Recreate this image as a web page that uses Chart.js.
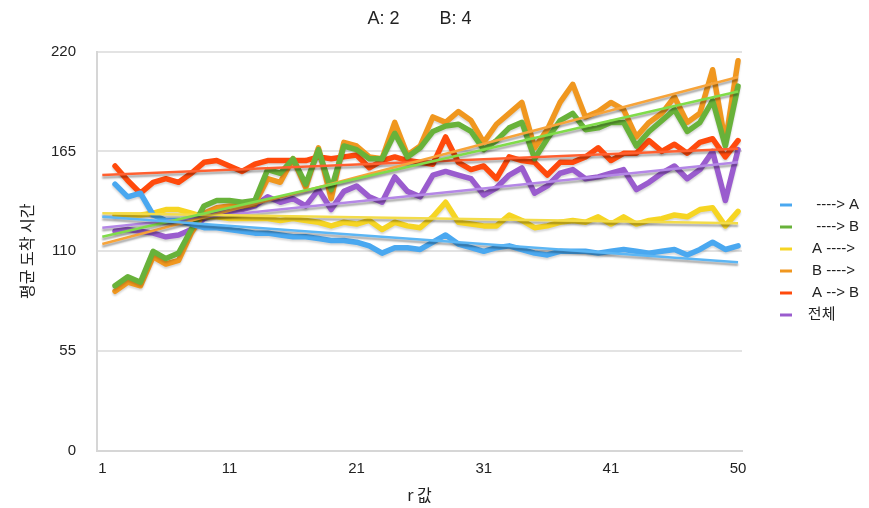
<!DOCTYPE html>
<html>
<head>
<meta charset="utf-8">
<script src="https://cdn.jsdelivr.net/npm/chart.js@4.4.1/dist/chart.umd.min.js"></script>
<style>
html,body{margin:0;padding:0;background:#ffffff;}
#wrap{width:869px;height:508px;position:relative;}
</style>
</head>
<body>
<div id="wrap"><canvas id="c" width="869" height="508" style="width:869px;height:508px"></canvas></div>
<script>
// ---- data ----
const rValues = [2,3,4,5,6,7,8,9,10,11,12,13,14,15,16,17,18,19,20,21,22,23,24,25,26,27,28,29,30,31,32,33,34,35,36,37,38,39,40,41,42,43,44,45,46,47,48,49,50,51];
const tickValues = [1,11,21,31,41,51];
const tickLabels = ['1','11','21','31','41','50'];
const seriesNames = ['    ----> A','    ----> B','   A ---->','   B ---->','   A --> B','  전체'];

const toA   = [147,140,142,130,127,127,125,123,123,122,121,120,120,119,118,118,117,116,116,115,113,109,112,112,111,115,119,114,112,110,112,113,111,109,108,110,110,110,109,110,111,110,109,110,111,108,111,115,111,113];
const toB   = [91,96,93,110,106,109,122,135,138,138,137,138,155,153,161,147,166,144,168,166,161,161,175,162,167,176,179,180,176,166,171,178,181,161,172,182,186,177,178,181,181,168,176,182,188,176,181,193,168,201];
const fromA = [130,130,130,131,133,133,131,129,129,128,128,128,128,127,128,127,126,124,126,125,127,122,126,124,123,129,137,126,125,124,124,130,127,123,124,126,127,126,129,125,129,125,127,128,130,129,133,134,124,132];
const fromB = [88,93,91,107,103,105,120,131,134,135,135,136,150,148,161,145,167,139,170,168,162,161,181,163,168,184,181,187,182,170,180,186,192,167,177,192,202,184,187,192,188,173,181,186,195,181,186,210,170,215];
const aToB  = [157,149,142,148,150,148,153,159,160,157,154,158,160,160,160,160,162,161,162,163,156,160,162,160,159,158,173,159,155,157,150,162,160,159,152,159,159,162,167,160,164,164,171,165,169,164,170,172,162,171];
const total = [121,122,121,120,118,119,122,128,131,132,133,135,140,137,139,135,144,133,143,146,140,137,151,143,140,152,154,152,150,141,145,152,156,142,146,153,155,150,151,153,155,144,148,153,157,150,155,165,138,166];

// trend line end values (at x = trendX[0] and trendX[1])
const trendX = [1, 51];
const trendToA   = [129, 104];
const trendToB   = [118, 198];
const trendFromA = [131, 125.5];
const trendFromB = [114, 206];
const trendAToB  = [152, 166.5];
const trendTotal = [123, 159];

// ---- styles ----
const colors      = ['#4aa8f0','#68b23a','#f6d523','#f0971f','#ff4a0c','#9a5cce'];
const trendColors = ['#5cb6f4','#80dc4a','#f3dc4a','#f7a43a','#ff6030','#b487e6'];
const FONT = '"Liberation Sans", "Noto Sans CJK KR", Arial, sans-serif';
const KFONT = '"Noto Sans CJK KR", "Liberation Sans", sans-serif';

const seriesValues = [toA, toB, fromA, fromB, aToB, total];
const trendValues  = [trendToA, trendToB, trendFromA, trendFromB, trendAToB, trendTotal];

const datasets = [];
seriesValues.forEach((vals, i) => {
  datasets.push({
    label: seriesNames[i],
    data: rValues.map((r, j) => ({x: r, y: vals[j]})),
    borderColor: colors[i],
    backgroundColor: colors[i],
    borderWidth: 5.5,
    pointRadius: 0,
    pointHoverRadius: 0,
    tension: 0,
    borderJoinStyle: 'round',
    borderCapStyle: 'round',
    order: 1,
    isTrend: false
  });
});
trendValues.forEach((t, i) => {
  datasets.push({
    label: seriesNames[i].trim() + ' 추세',
    data: trendX.map((x, j) => ({x: x, y: t[j]})),
    borderColor: trendColors[i],
    backgroundColor: trendColors[i],
    borderWidth: 2.5,
    pointRadius: 0,
    pointHoverRadius: 0,
    tension: 0,
    order: 0,
    isTrend: true
  });
});

const LEGEND_W = 127, LEGEND_DX = 31, LEGEND_DY = 6;
const legendPlace = {
  id: 'legendPlace',
  beforeLayout(chart) {
    const lg = chart.legend;
    if (lg && !lg._patched) {
      const fit = lg.fit;
      lg.fit = function () { fit.call(this); this.width = LEGEND_W; };
      lg._patched = true;
    }
  },
  afterLayout(chart) {
    const lg = chart.legend;
    lg.left += LEGEND_DX; lg.right += LEGEND_DX;
    lg.top += LEGEND_DY; lg.bottom += LEGEND_DY;
  }
};
const shadow = {
  id: 'shadow',
  beforeDatasetDraw(chart, args) {
    const ctx = chart.ctx;
    const ds = chart.data.datasets[args.index];
    ctx.save();
    ctx.shadowColor = ds.isTrend ? 'rgba(0,0,0,0.35)' : 'rgba(0,0,0,0.16)';
    ctx.shadowBlur = 2;
    ctx.shadowOffsetX = 0;
    ctx.shadowOffsetY = ds.isTrend ? 2.5 : 2;
  },
  afterDatasetDraw(chart) { chart.ctx.restore(); }
};

new Chart(document.getElementById('c'), {
  type: 'line',
  data: {datasets: datasets},
  options: {
    responsive: false,
    animation: false,
    devicePixelRatio: 1,
    layout: {padding: {top: 0, left: 0, right: 0, bottom: 0}},
    plugins: {
      tooltip: {enabled: false},
      title: {
        display: true,
        text: 'A: 2        B: 4',
        fullSize: false,
        color: '#222',
        font: {family: FONT, size: 18, weight: 'normal'},
        padding: {top: 8, bottom: 22}
      },
      legend: {
        position: 'right',
        align: 'center',
        labels: {
          boxWidth: 12,
          boxHeight: 3,
          padding: 7,
          color: '#222',
          font: {family: FONT, size: 15},
          generateLabels: () => seriesNames.map((n, i) => ({
            text: n, fillStyle: colors[i], strokeStyle: colors[i], lineWidth: 0,
            hidden: false, datasetIndex: i, fontColor: '#222'
          }))
        }
      }
    },
    scales: {
      x: {
        type: 'linear',
        min: 0.583,
        max: 51.31,
        afterBuildTicks: (scale) => { scale.ticks = tickValues.map(v => ({value: v})); },
        afterFit: (scale) => { scale.height = 57; },
        ticks: {
          autoSkip: false, maxRotation: 0, padding: 9, color: '#222',
          font: {family: FONT, size: 15},
          callback: (v) => tickLabels[tickValues.indexOf(v)]
        },
        grid: {display: false, drawTicks: false},
        border: {display: true, color: '#d6d6d6', width: 2},
        title: {
          display: true, text: 'r 값', color: '#222',
          font: {family: KFONT, size: 16},
          padding: {top: 0, bottom: 3}
        }
      },
      y: {
        min: 0,
        max: 220,
        afterFit: (scale) => { scale.width = 97; },
        ticks: {stepSize: 55, padding: 21, color: '#222', font: {family: FONT, size: 15}},
        grid: {color: '#e3e3e3', lineWidth: 2, drawTicks: false},
        border: {display: true, color: '#d6d6d6', width: 2},
        title: {
          display: true, text: '평균 도착 시간', color: '#222',
          font: {family: KFONT, size: 16},
          padding: {top: 17, bottom: 0}
        }
      }
    }
  },
  plugins: [legendPlace, shadow]
});
</script>
</body>
</html>
